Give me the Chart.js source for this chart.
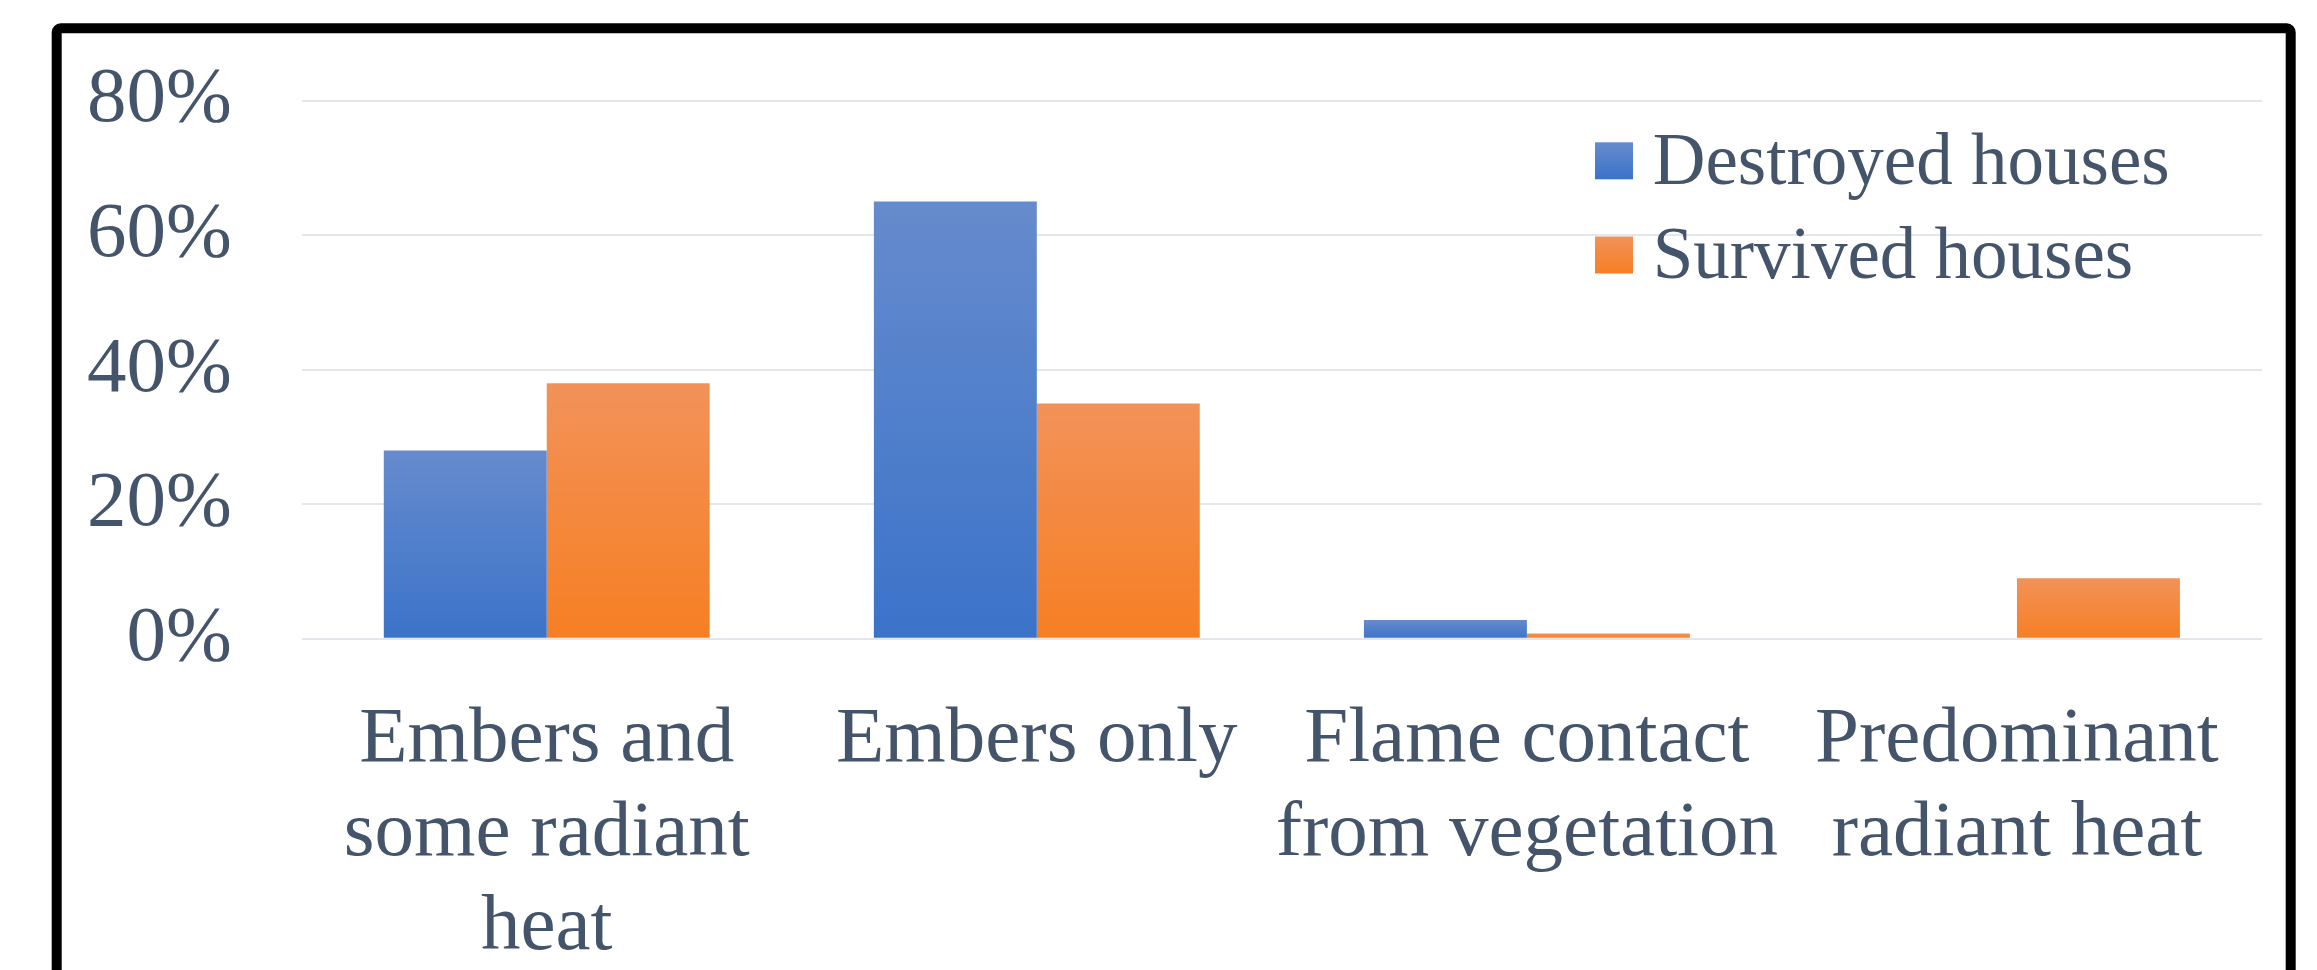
<!DOCTYPE html>
<html>
<head>
<meta charset="utf-8">
<script src="https://cdn.jsdelivr.net/npm/chart.js@4.4.1/dist/chart.umd.min.js"></script>
<style>
  html, body { margin: 0; padding: 0; background: #ffffff; overflow: hidden; }
  canvas { display: block; }
</style>
</head>
<body>
<canvas id="c" width="2317" height="970"></canvas>
<script>
// ---- data ----
const categories = [
  ["Embers and", "some radiant", "heat"],
  "Embers only",
  ["Flame contact", "from vegetation"],
  ["Predominant", "radiant heat"]
];
const seriesNames = ["Destroyed houses", "Survived houses"];
const destroyedValues = [28, 65, 2.8, 0];
const survivedValues = [38, 35, 0.8, 9];
const yTickValues = [0, 20, 40, 60, 80];

// ---- styles ----
const TEXT = '#44546A';
const FONT = 'Liberation Serif, "Times New Roman", serif';
const BLUE = ['#668BCD', '#3B73C9'];
const ORANGE = ['#F29259', '#F67F23'];
const PLOT_TOP = 100.7, PLOT_BOTTOM = 638.8, PLOT_LEFT = 301.7;

function barGradient(c) {
  return function (ctx) {
    const chart = ctx.chart;
    if (!chart.chartArea || ctx.type !== 'data') return c[1];
    const y = chart.scales.y;
    const v = ctx.parsed ? ctx.parsed.y : ctx.raw;
    const top = y.getPixelForValue(v);
    const bot = y.getPixelForValue(0);
    if (Math.abs(bot - top) < 1) return c[1];
    const g = chart.ctx.createLinearGradient(0, top, 0, bot);
    g.addColorStop(0, c[0]);
    g.addColorStop(1, c[1]);
    return g;
  };
}

const frame = {
  id: 'frame',
  afterDraw(chart) {
    const ctx = chart.ctx;
    ctx.save();
    ctx.strokeStyle = '#000000';
    ctx.lineWidth = 10;
    ctx.beginPath();
    if (ctx.roundRect) ctx.roundRect(56.7, 28.3, 2234, 1100, 4);
    else ctx.rect(56.7, 28.3, 2234, 1100);
    ctx.stroke();
    ctx.restore();
  }
};

const legendInside = {
  id: 'legendInside',
  afterDatasetsDraw(chart) {
    const ctx = chart.ctx;
    const cols = [BLUE, ORANGE];
    const boxX = 1595, boxW = 38, boxH = 37;
    const boxTops = [142.3, 236.5];
    const baselines = [184, 278];
    ctx.save();
    ctx.font = '73px ' + FONT;
    ctx.textBaseline = 'alphabetic';
    ctx.textAlign = 'left';
    chart.data.datasets.forEach((ds, i) => {
      const g = ctx.createLinearGradient(0, boxTops[i], 0, boxTops[i] + boxH);
      g.addColorStop(0, cols[i][0]);
      g.addColorStop(1, cols[i][1]);
      ctx.fillStyle = g;
      ctx.fillRect(boxX, boxTops[i], boxW, boxH);
      ctx.fillStyle = TEXT;
      ctx.fillText(ds.label, 1652.7, baselines[i]);
    });
    ctx.restore();
  }
};

new Chart(document.getElementById('c'), {
  type: 'bar',
  data: {
    labels: categories,
    datasets: [
      { label: seriesNames[0], data: destroyedValues, backgroundColor: barGradient(BLUE), borderWidth: 0 },
      { label: seriesNames[1], data: survivedValues, backgroundColor: barGradient(ORANGE), borderWidth: 0 }
    ]
  },
  options: {
    responsive: false,
    animation: false,
    devicePixelRatio: 1,
    layout: { padding: { top: PLOT_TOP, right: 55, left: 0, bottom: 0 } },
    datasets: { bar: { categoryPercentage: 0.665, barPercentage: 1 } },
    plugins: {
      legend: { display: false },
      tooltip: { enabled: false },
      title: { display: false }
    },
    scales: {
      x: {
        grid: { display: false, drawTicks: false },
        border: { display: false },
        ticks: {
          color: TEXT,
          font: { family: FONT, size: 79, lineHeight: 1.19 },
          padding: 54,
          maxRotation: 0,
          autoSkip: false
        },
        afterFit(s) { s.height = 970 - PLOT_BOTTOM; }
      },
      y: {
        min: 0,
        max: 80,
        afterBuildTicks(s) { s.ticks = yTickValues.map(v => ({ value: v })); },
        grid: { color: '#E3E6EB', lineWidth: 2, drawTicks: false },
        border: { display: false },
        ticks: {
          color: TEXT,
          font: { family: FONT, size: 79 },
          padding: 70,
          callback: v => v + '%'
        },
        afterFit(s) { s.width = PLOT_LEFT; s.paddingTop = 0; s.paddingBottom = 0; }
      }
    }
  },
  plugins: [frame, legendInside]
});
</script>
</body>
</html>
